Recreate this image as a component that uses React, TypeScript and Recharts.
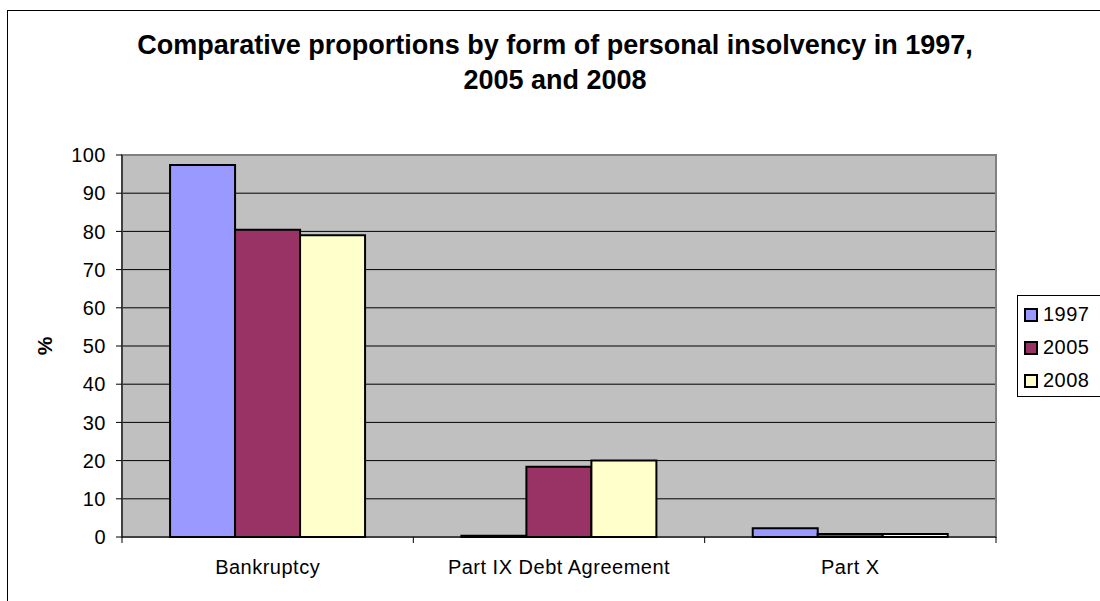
import React from "react";
import {
  BarChart,
  Bar,
  XAxis,
  YAxis,
  CartesianGrid,
  ReferenceArea,
} from "recharts";

const categories = ["Bankruptcy", "Part IX Debt Agreement", "Part X"];
const values1997 = [97.4, 0.3, 2.3];
const values2005 = [80.4, 18.4, 0.8];
const values2008 = [79.0, 20.0, 0.8];
const yTicks = [0, 10, 20, 30, 40, 50, 60, 70, 80, 90, 100];

const series = [
  { key: "y1997", name: "1997", color: "#9999FF" },
  { key: "y2005", name: "2005", color: "#993366" },
  { key: "y2008", name: "2008", color: "#FFFFCC" },
];

const data = categories.map((c, i) => ({
  category: c,
  y1997: values1997[i],
  y2005: values2005[i],
  y2008: values2008[i],
}));

const W = 1100;
const H = 601;
const MARGIN = { top: 155, right: 104, bottom: 30, left: 62 };
const Y_AXIS_W = 60;
const X_AXIS_H = 34;
const PLOT_W = W - MARGIN.left - MARGIN.right - Y_AXIS_W;
const BAND = PLOT_W / categories.length;

const FONT = "'Liberation Sans', Arial, sans-serif";
const LABEL_SIZE = 20;
const LABEL_SPACING = 0.5;

function CategoryTick(props: any) {
  const { x, y, payload, index } = props;
  const left = x - BAND / 2;
  const right = x + BAND / 2;
  return (
    <g>
      <line x1={left} y1={y - 6} x2={left} y2={y} stroke="#000" />
      {index === categories.length - 1 && (
        <line x1={right} y1={y - 6} x2={right} y2={y} stroke="#000" />
      )}
      <text
        x={x}
        y={y + 31}
        textAnchor="middle"
        fontFamily={FONT}
        fontSize={LABEL_SIZE}
        letterSpacing={LABEL_SPACING}
        fill="#000"
      >
        {payload.value}
      </text>
    </g>
  );
}

function LegendBox() {
  return (
    <div
      style={{
        position: "absolute",
        left: 1017,
        top: 295,
        width: 95,
        height: 102,
        border: "1px solid #000",
        background: "#fff",
        boxSizing: "border-box",
        paddingTop: 2,
        fontFamily: FONT,
        fontSize: LABEL_SIZE,
        letterSpacing: LABEL_SPACING,
      }}
    >
      {series.map((s) => (
        <div
          key={s.key}
          style={{ display: "flex", alignItems: "center", height: 33, paddingLeft: 6 }}
        >
          <span
            style={{
              display: "inline-block",
              width: 10,
              height: 10,
              border: "2px solid #000",
              background: s.color,
              marginRight: 5,
            }}
          />
          <span>{s.name}</span>
        </div>
      ))}
    </div>
  );
}

export default function App() {
  return (
    <div
      style={{
        position: "absolute",
        left: 0,
        top: 0,
        width: W,
        height: H,
        overflow: "hidden",
        background: "#fff",
      }}
    >
      <div
        style={{
          position: "absolute",
          left: 7,
          top: 10,
          width: W,
          height: H,
          border: "1px solid #000",
        }}
      />
      <div
        style={{
          position: "absolute",
          left: 0,
          top: 28,
          width: 1110,
          textAlign: "center",
          fontFamily: FONT,
          fontWeight: "bold",
          fontSize: 27,
          lineHeight: "35px",
        }}
      >
        Comparative proportions by form of personal insolvency in 1997,
        <br />
        2005 and 2008
      </div>
      <BarChart
        width={W}
        height={H}
        data={data}
        margin={MARGIN}
        barCategoryGap="16.5%"
        barGap={0}
        style={{ position: "absolute", left: 0, top: 0 }}
      >
        <CartesianGrid vertical={false} stroke="#000" fill="#C0C0C0" fillOpacity={1} />
        <ReferenceArea
          y1={0}
          y2={100}
          fill="none"
          stroke="#808080"
          strokeWidth={2}
          ifOverflow="visible"
        />
        <XAxis
          dataKey="category"
          height={X_AXIS_H}
          axisLine={{ stroke: "#000" }}
          tickLine={false}
          tickSize={6}
          tickMargin={0}
          interval={0}
          tick={<CategoryTick />}
        />
        <YAxis
          domain={[0, 100]}
          ticks={yTicks}
          width={Y_AXIS_W}
          axisLine={{ stroke: "#000" }}
          tickLine={{ stroke: "#000" }}
          tickSize={6}
          tickMargin={10}
          interval={0}
          tick={{
            fontFamily: FONT,
            fontSize: LABEL_SIZE,
            fill: "#000",
            letterSpacing: LABEL_SPACING,
          }}
          label={({ viewBox }: any) => (
            <text
              x={viewBox.x - 10}
              y={viewBox.y + viewBox.height / 2}
              transform={`rotate(-90 ${viewBox.x - 10} ${viewBox.y + viewBox.height / 2})`}
              textAnchor="middle"
              fontFamily={FONT}
              fontWeight="bold"
              fontSize={21}
              fill="#000"
            >
              %
            </text>
          )}
        />
        {series.map((s) => (
          <Bar
            key={s.key}
            dataKey={s.key}
            name={s.name}
            fill={s.color}
            stroke="#000"
            strokeWidth={2}
            isAnimationActive={false}
          />
        ))}
      </BarChart>
      <LegendBox />
    </div>
  );
}
